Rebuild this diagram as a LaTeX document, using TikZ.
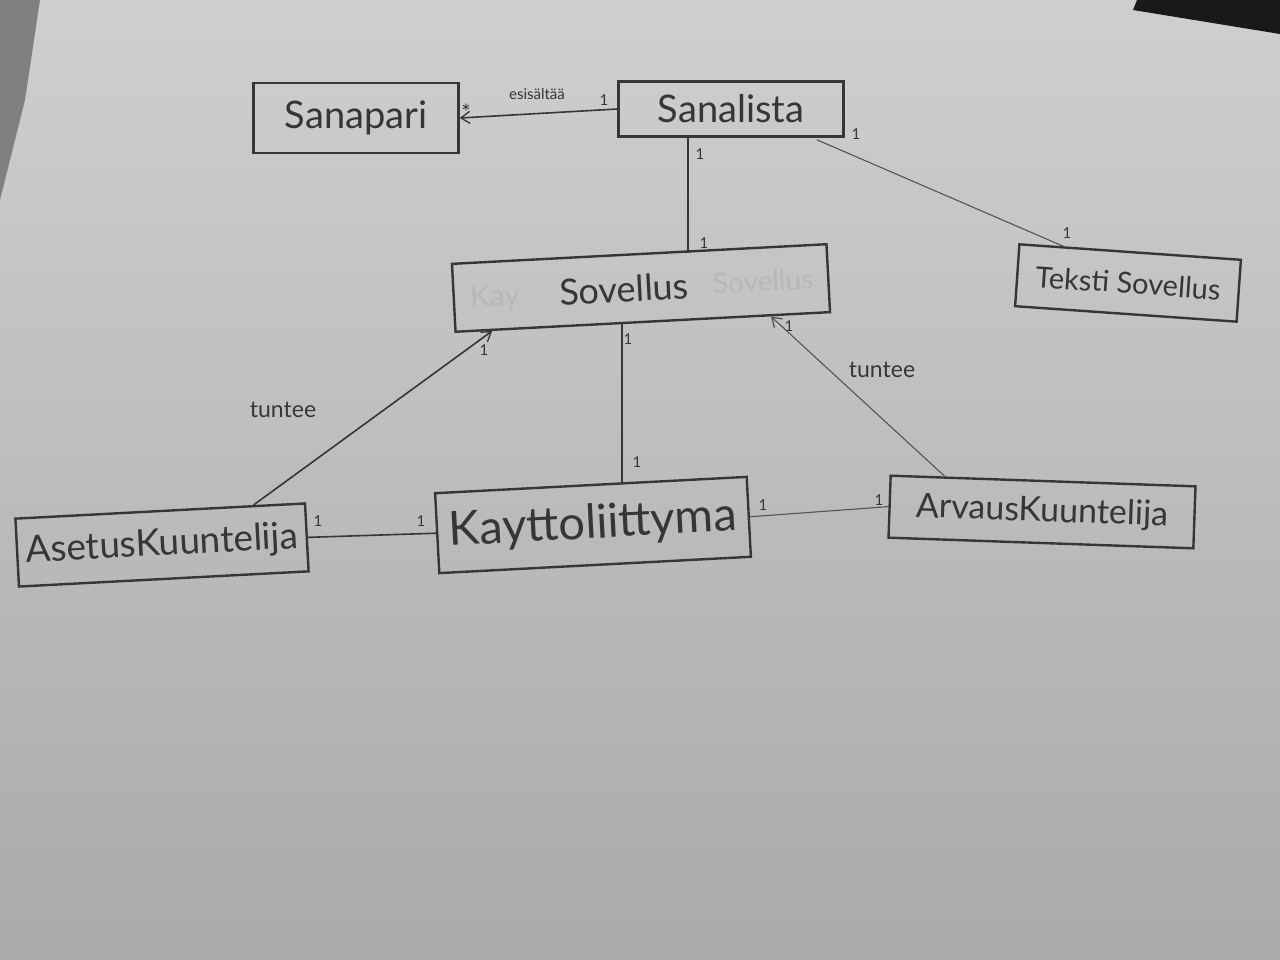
\documentclass[tikz,border=0pt]{standalone}
\usepackage{fontspec}
\setmainfont{Lato}
\usetikzlibrary{calc,arrows.meta}
\definecolor{pencil}{HTML}{363636}
\definecolor{paperT}{HTML}{CFCFCF}
\definecolor{paperB}{HTML}{AAAAAA}
\definecolor{ghost}{HTML}{B8B8B8}
\begin{document}
\begin{tikzpicture}[x=1pt,y=-1pt,
  cls/.style={draw=pencil,line width=2.4pt,inner sep=0pt,text=pencil},
  assoc/.style={draw=pencil,line width=1.6pt},
  thin/.style={draw=pencil!85,line width=1.1pt},
  openhead/.style={-{Straight Barb[length=9pt,width=12pt,line width=1.3pt]}},
  mult/.style={text=pencil,font=\fontsize{15}{16}\selectfont,inner sep=0pt},
  role/.style={text=pencil,font=\fontsize{23}{24}\selectfont,inner sep=0pt}]
\useasboundingbox (0,0) rectangle (1280,960);
\shade[top color=paperT,bottom color=paperB] (0,0) rectangle (1280,960);
\fill[black!50] (0,0) -- (40,0) -- (25,100) -- (0,200) -- cycle;
\fill[black!90] (1137,0) -- (1280,0) -- (1280,34) -- (1133,10) -- cycle;

% classes
\node[cls,minimum width=205,minimum height=70] (sanapari) at (356,118)
  {\fontsize{38}{40}\selectfont Sanapari};
\node[cls,minimum width=225,minimum height=55] (sanalista) at (731,109)
  {\fontsize{38}{40}\selectfont Sanalista};
\node[text=ghost,rotate=3,inner sep=0pt] (ghostA) at (495,298)
  {\fontsize{30}{32}\selectfont Kay};
\node[text=ghost,rotate=3,inner sep=0pt] (ghostB) at (763,281)
  {\fontsize{28}{30}\selectfont Sovellus};
\node[cls,minimum width=375,minimum height=68,rotate=3] (sovellus) at (641,288)
  {\fontsize{36}{40}\selectfont\hspace*{-34pt}Sovellus};
\node[cls,minimum width=222,minimum height=62,rotate=-4] (teksti) at (1128,283)
  {\fontsize{29}{32}\selectfont Teksti Sovellus};
\node[cls,minimum width=290,minimum height=68,rotate=3] (asetus) at (162,545)
  {\fontsize{37}{40}\selectfont AsetusKuuntelija};
\node[cls,minimum width=312,minimum height=80,rotate=3] (kaytto) at (593,525)
  {\fontsize{47}{50}\selectfont Kayttoliittyma};
\node[cls,minimum width=305,minimum height=62,rotate=-2] (arvaus) at (1042,512)
  {\fontsize{34}{38}\selectfont ArvausKuuntelija};

% connectors
\draw[assoc,openhead] (sanalista.west) -- (sanapari.east);
\draw[assoc] ($(sanalista.south)+(-43,0)$) coordinate (p1) -- (p1 |- sovellus.north);
\draw[thin] ($(sanalista.south east)+(-28,2)$) -- ($(teksti.north west)!0.2!(teksti.north east)$);
\draw[assoc] ($(sovellus.south)+(-21,0)$) coordinate (p2) -- (p2 |- kaytto.north);
\draw[assoc,openhead] ($(asetus.north west)!0.82!(asetus.north east)$) -- ($(sovellus.south west)!0.1!(sovellus.south east)$);
\draw[thin,openhead] ($(arvaus.north west)!0.18!(arvaus.north east)$) -- ($(sovellus.south west)!0.84!(sovellus.south east)$);
\draw[assoc] (asetus.east) -- (kaytto.west);
\draw[thin] (kaytto.east) -- (arvaus.west);

% labels
\node[text=pencil,font=\fontsize{15}{16}\selectfont,inner sep=0pt] (esis) at (537,94) {esisältää};
\node[mult,font=\fontsize{22}{22}\selectfont] (m1) at (466,112) {*};
\node[mult] (m2) at (604,100) {1};
\node[mult] (m3) at (700,154) {1};
\node[mult] (m4) at (704,243) {1};
\node[mult] (m5) at (856,134) {1};
\node[mult] (m6) at (1067,233) {1};
\node[mult] (m7) at (628,339) {1};
\node[mult] (m8) at (637,462) {1};
\node[mult] (m9) at (484,350) {1};
\node[mult] (m10) at (789,326) {1};
\node[mult] (m11) at (318,521) {1};
\node[mult] (m12) at (421,521) {1};
\node[mult] (m13) at (763,505) {1};
\node[mult] (m14) at (879,500) {1};
\node[role] (t1) at (283,410) {tuntee};
\node[role] (t2) at (882,370) {tuntee};
\end{tikzpicture}
\end{document}
